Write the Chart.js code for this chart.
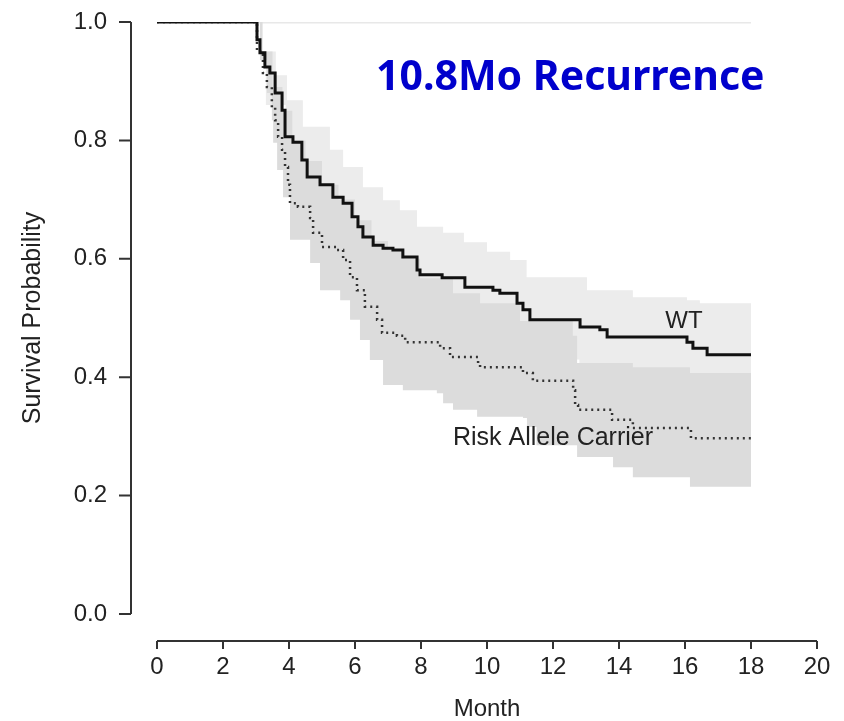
<!DOCTYPE html>
<html>
<head>
<meta charset="utf-8">
<script src="https://cdn.jsdelivr.net/npm/chart.js@4.4.1/dist/chart.umd.min.js"></script>
<style>
 html, body { margin: 0; padding: 0; background: #fff; }
 #km-chart { display: block; }
</style>
</head>
<body>
<canvas id="km-chart" width="844" height="721"></canvas>
<script>
// Kaplan-Meier estimates (month, survival probability)
var wtTime = [0, 3.03, 3.12, 3.27, 3.42, 3.58, 3.79, 3.88, 4.12, 4.39, 4.55, 4.94, 5.33, 5.64, 5.91, 6.09, 6.24, 6.55, 6.85, 7.15, 7.45, 7.88, 7.97, 8.64, 9.33, 10.18, 10.39, 10.91, 11.09, 11.3, 12.82, 13.42, 13.64, 16.06, 16.24, 16.67, 18];
var wtSurv = [1, 0.97, 0.948, 0.924, 0.914, 0.88, 0.851, 0.806, 0.797, 0.767, 0.738, 0.725, 0.704, 0.694, 0.671, 0.654, 0.637, 0.623, 0.618, 0.615, 0.603, 0.581, 0.573, 0.568, 0.552, 0.547, 0.542, 0.525, 0.514, 0.497, 0.485, 0.48, 0.468, 0.459, 0.449, 0.438, 0.438];

var riskTime = [0, 3.03, 3.21, 3.33, 3.48, 3.58, 3.67, 3.79, 3.88, 3.97, 4.03, 4.27, 4.64, 4.73, 5.0, 5.45, 5.64, 5.85, 6.06, 6.3, 6.67, 6.82, 7.27, 7.52, 8.58, 8.88, 9.73, 9.79, 11.09, 11.39, 12.61, 12.67, 12.76, 13.79, 14.42, 16.18, 18];
var riskSurv = [1, 0.95, 0.914, 0.89, 0.856, 0.834, 0.806, 0.784, 0.755, 0.725, 0.694, 0.688, 0.669, 0.644, 0.62, 0.615, 0.598, 0.569, 0.547, 0.519, 0.497, 0.475, 0.47, 0.459, 0.449, 0.434, 0.422, 0.417, 0.407, 0.394, 0.378, 0.353, 0.345, 0.328, 0.314, 0.297, 0.297];

// confidence bands
var wtUpTime = [3.0, 3.3, 3.6, 3.94, 4.42, 5.24, 5.64, 6.24, 6.85, 7.36, 7.88, 8.67, 9.3, 10.0, 10.7, 11.2, 13.03, 14.42, 16.06, 16.45, 18];
var wtUpSurv = [1, 0.95, 0.91, 0.868, 0.823, 0.784, 0.755, 0.721, 0.699, 0.682, 0.654, 0.644, 0.628, 0.612, 0.598, 0.569, 0.547, 0.535, 0.53, 0.525, 0.525];
var wtLoTime = [3.0, 3.3, 3.9, 4.5, 5.2, 6.0, 6.8, 7.9, 9.3, 11.1, 12.8, 13.6, 16.2, 16.7, 18];
var wtLoSurv = [1, 0.86, 0.73, 0.66, 0.62, 0.57, 0.53, 0.49, 0.47, 0.43, 0.41, 0.4, 0.38, 0.36, 0.36];

var riskUpTime = [3.0, 3.2, 3.5, 3.8, 4.1, 4.5, 5.0, 5.5, 6.0, 6.5, 7.0, 7.5, 7.97, 8.97, 9.79, 11.0, 12.6, 12.73, 14.42, 16.15, 18];
var riskUpSurv = [1, 0.95, 0.89, 0.85, 0.8, 0.765, 0.725, 0.7, 0.665, 0.63, 0.615, 0.6, 0.567, 0.542, 0.525, 0.495, 0.47, 0.424, 0.417, 0.407, 0.407];
var riskLoTime = [3.0, 3.12, 3.33, 3.48, 3.52, 3.64, 3.82, 4.03, 4.64, 4.94, 5.55, 5.85, 6.15, 6.45, 6.85, 7.45, 8.48, 8.67, 8.97, 9.7, 11.09, 11.21, 11.5, 12.73, 13.82, 14.42, 16.15, 18];
var riskLoSurv = [1, 0.936, 0.88, 0.834, 0.796, 0.75, 0.704, 0.632, 0.593, 0.547, 0.53, 0.497, 0.463, 0.429, 0.387, 0.378, 0.373, 0.356, 0.345, 0.333, 0.331, 0.316, 0.285, 0.265, 0.248, 0.231, 0.215, 0.215];

var topTime = [3.0, 18];
var topSurv = [1, 1];

var xTicks = [0, 2, 4, 6, 8, 10, 12, 14, 16, 18, 20];
var yTicks = [0, 0.2, 0.4, 0.6, 0.8, 1.0];

function toPoints(xs, ys) {
 return xs.map(function (x, i) {
  return { x: x, y: ys[i] };
 });
}

var axisFont = "'Liberation Sans', Arial, sans-serif";

// R style axes: detached from the plot region
var rAxes = {
 id: "rAxes",
 afterDraw: function (chart) {
  var ctx = chart.ctx;
  var xs = chart.scales.x;
  var ys = chart.scales.y;
  var area = chart.chartArea;
  var axX = area.left - 26;
  var axY = area.bottom + 27;
  ctx.save();
  ctx.strokeStyle = "#333";
  ctx.lineWidth = 2;
  ctx.beginPath();
  ctx.moveTo(axX, ys.getPixelForValue(yTicks[yTicks.length - 1]));
  ctx.lineTo(axX, ys.getPixelForValue(yTicks[0]));
  yTicks.forEach(function (v) {
   var py = ys.getPixelForValue(v);
   ctx.moveTo(axX - 12, py);
   ctx.lineTo(axX, py);
  });
  ctx.moveTo(xs.getPixelForValue(xTicks[0]), axY);
  ctx.lineTo(xs.getPixelForValue(xTicks[xTicks.length - 1]), axY);
  xTicks.forEach(function (v) {
   var px = xs.getPixelForValue(v);
   ctx.moveTo(px, axY);
   ctx.lineTo(px, axY + 8);
  });
  ctx.stroke();

  // curve labels
  ctx.fillStyle = "#222";
  ctx.textAlign = "center";
  ctx.textBaseline = "middle";
  ctx.font = "24px " + axisFont;
  ctx.fillText("WT", xs.getPixelForValue(15.97), ys.getPixelForValue(0.494));
  ctx.font = "25px " + axisFont;
  ctx.fillText("Risk Allele Carrier", xs.getPixelForValue(12.0), ys.getPixelForValue(0.297));

  // overlay caption
  ctx.fillStyle = "#0000cc";
  ctx.font = "bold 41px 'Noto Sans', sans-serif";
  ctx.textAlign = "left";
  ctx.textBaseline = "alphabetic";
  ctx.fillText("10.8Mo Recurrence", 376, 90);
  ctx.restore();
 },
};

var ctx = document.getElementById("km-chart");

new Chart(ctx, {
 type: "line",
 data: {
  datasets: [
   {
    label: "WT",
    data: toPoints(wtTime, wtSurv),
    borderColor: "#111",
    borderWidth: 3,
    stepped: true,
    pointRadius: 0,
    fill: false,
   },
   {
    label: "Risk Allele Carrier",
    data: toPoints(riskTime, riskSurv),
    borderColor: "#333",
    borderWidth: 2.5,
    borderDash: [2, 4],
    stepped: true,
    pointRadius: 0,
    fill: false,
   },
   {
    label: "Risk upper",
    data: toPoints(riskUpTime, riskUpSurv),
    borderWidth: 0,
    borderColor: "rgba(0,0,0,0)",
    backgroundColor: "#dcdcdc",
    stepped: true,
    pointRadius: 0,
    fill: 3,
   },
   {
    label: "Risk lower",
    data: toPoints(riskLoTime, riskLoSurv),
    borderWidth: 0,
    borderColor: "rgba(0,0,0,0)",
    stepped: true,
    pointRadius: 0,
    fill: false,
   },
   {
    label: "WT upper",
    data: toPoints(wtUpTime, wtUpSurv),
    borderWidth: 0,
    borderColor: "rgba(0,0,0,0)",
    backgroundColor: "#ececec",
    stepped: true,
    pointRadius: 0,
    fill: 5,
   },
   {
    label: "WT lower",
    data: toPoints(wtLoTime, wtLoSurv),
    borderWidth: 0,
    borderColor: "rgba(0,0,0,0)",
    stepped: true,
    pointRadius: 0,
    fill: false,
   },
   {
    label: "top",
    data: toPoints(topTime, topSurv),
    borderColor: "#e8e8e8",
    borderWidth: 3,
    pointRadius: 0,
    fill: false,
   },
  ],
 },
 options: {
  responsive: false,
  animation: false,
  events: [],
  layout: {
   padding: { top: 22, right: 27, left: 0, bottom: 0 },
  },
  plugins: {
   legend: { display: false },
   tooltip: { enabled: false },
  },
  scales: {
   x: {
    type: "linear",
    min: 0,
    max: 20,
    afterFit: function (scale) {
     scale.height = 107;
     scale.paddingLeft = 0;
     scale.paddingRight = 0;
    },
    afterBuildTicks: function (scale) {
     scale.ticks = xTicks.map(function (v) {
      return { value: v };
     });
    },
    grid: { display: false, drawTicks: false, tickLength: 0 },
    border: { display: false },
    ticks: {
     padding: 39,
     color: "#222",
     maxRotation: 0,
     font: { family: axisFont, size: 24 },
    },
    title: {
     display: true,
     text: "Month",
     color: "#222",
     padding: { top: 0, bottom: 0 },
     font: { family: axisFont, size: 24, lineHeight: 1 },
    },
   },
   y: {
    type: "linear",
    min: 0,
    max: 1,
    afterFit: function (scale) {
     scale.width = 157;
     scale.paddingTop = 0;
     scale.paddingBottom = 0;
    },
    afterBuildTicks: function (scale) {
     scale.ticks = yTicks.map(function (v) {
      return { value: v };
     });
    },
    grid: { display: false, drawTicks: false, tickLength: 0 },
    border: { display: false },
    ticks: {
     padding: 50,
     color: "#222",
     font: { family: axisFont, size: 24 },
     callback: function (v) {
      return v.toFixed(1);
     },
    },
    title: {
     display: true,
     text: "Survival Probability",
     color: "#222",
     padding: { top: 18, bottom: 0 },
     font: { family: axisFont, size: 25 },
    },
   },
  },
 },
 plugins: [rAxes],
});
</script>
</body>
</html>
